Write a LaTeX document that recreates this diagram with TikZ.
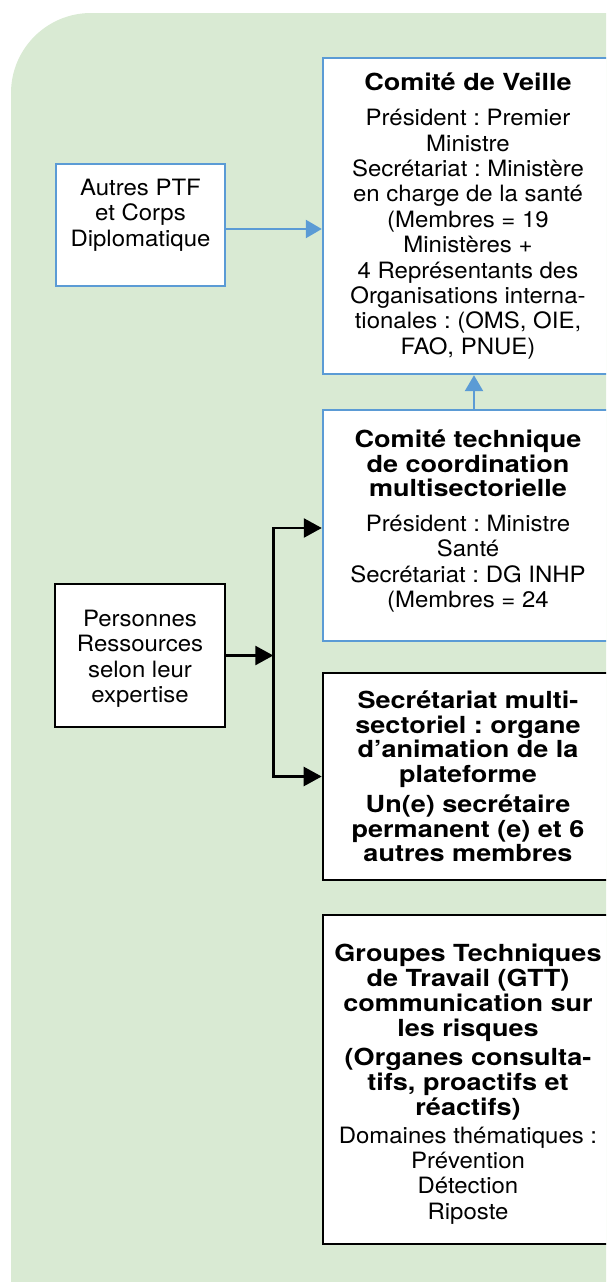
\documentclass[tikz,border=0pt]{standalone}
\usepackage{fontspec}
\setmainfont{TeX Gyre Heros}[FakeStretch=1.065]
\newfontfamily\regfont{TeX Gyre Heros}[FakeStretch=1.065]
\newfontfamily\boldfont{TeX Gyre Heros}[FakeStretch=1.15]
\usetikzlibrary{arrows.meta}
\frenchspacing

\definecolor{panelgreen}{HTML}{D9EAD3}
\definecolor{frameblue}{HTML}{5B9BD5}

% text faces used in the boxes
\newcommand\txtreg{\fontsize{22.5}{25.4}\regfont\mdseries}
\newcommand\txtbold{\fontsize{23.5}{25.4}\boldfont\bfseries}
% invisible struts that widen a text block upwards or downwards
\newcommand\padbelow[1]{\rule[-#1]{0pt}{#1}}
\newcommand\padabove[1]{\rule{0pt}{#1}}

\tikzset{bigtri/.tip={Triangle[length=18pt,width=19pt]},
         bluetri/.tip={Triangle[length=16pt,width=18pt]}}

\begin{document}
\begin{tikzpicture}[x=1pt,y=-1pt,
  box/.style={rectangle, fill=white, inner sep=0pt, align=center,
              font=\txtreg, text=black},
  bluebox/.style={box, draw=frameblue, line width=2.4pt},
  blackbox/.style={box, draw=black, line width=2.6pt},
  blueconn/.style={draw=frameblue, line width=2.4pt, -bluetri},
  blackconn/.style={draw=black, line width=2.5pt},
]
\useasboundingbox (0,0) rectangle (606,1282);
\clip (0,0) rectangle (606,1282);

% green panel with one rounded corner
\fill[panelgreen, rounded corners=80pt] (11,1500) -- (11,13) -- (700,13) -- (700,1500) -- cycle;

% left column
\node[bluebox, minimum width=169pt, minimum height=122pt] (autres) at (140.5,225)
  {Autres PTF\\et Corps\\Diplomatique\padbelow{25pt}};
\node[blackbox, minimum width=170pt, minimum height=143pt] (pers) at (140,655.5)
  {\padabove{22.8pt}Personnes\\Ressources\\selon leur\\expertise};

% right column
\node[bluebox, minimum width=290pt, minimum height=316pt] (veille) at (468,216)
  {\txtbold Comité de Veille\\[9.5pt]
   Président : Premier\\
   Ministre\\
   Secrétariat : Ministère\\
   en charge de la santé\\
   (Membres = 19\\
   Ministères +\\
   4 Représentants des\\
   Organisations interna-\\
   tionales : (OMS, OIE,\\
   FAO, PNUE)};

\node[bluebox, minimum width=290pt, minimum height=231pt] (tech) at (468,525.5)
  {\txtbold Comité technique\\[-0.8pt]
   \txtbold de coordination\\[-0.8pt]
   \txtbold multisectorielle\\[9.5pt]
   Président : Ministre\\
   Santé\\
   Secrétariat : DG INHP\\
   (Membres = 24\padbelow{13.4pt}};

\node[blackbox, minimum width=290pt, minimum height=207pt] (secr) at (468,776.5)
  {\txtbold Secrétariat multi-\\[-0.8pt]
   \txtbold sectoriel : organe\\[-0.8pt]
   \txtbold d’animation de la\\[-0.8pt]
   \txtbold plateforme\\[4.5pt]
   \txtbold Un(e) secrétaire\\[-0.8pt]
   \txtbold permanent (e) et 6\\[-0.8pt]
   \txtbold autres membres};

\node[blackbox, minimum width=290pt, minimum height=329pt] (gtt) at (468,1079.5)
  {\txtbold\padabove{27pt}Groupes Techniques\\[-0.4pt]
   \txtbold de Travail (GTT)\\[-0.4pt]
   \txtbold communication sur\\[-0.4pt]
   \txtbold les risques\\[3.5pt]
   \txtbold (Organes consulta-\\[-0.4pt]
   \txtbold tifs, proactifs et\\[-0.4pt]
   \txtbold réactifs)\\[2pt]
   Domaines thématiques :\\
   Prévention\\
   Détection\\
   Riposte};

% blue links
\draw[blueconn] ([yshift=-4pt]autres.east) -- ([yshift=-4pt]autres.east -| veille.west);
\draw[blueconn] ([xshift=6pt]tech.north) -- ([xshift=6pt]tech.north |- veille.south);

% black links from the resource people
\coordinate (hub) at ([xshift=47pt]pers.east);
\coordinate (techin) at ([yshift=-2.5pt]tech.west);
\draw[blackconn, -bigtri] (pers.east) -- (hub);
\draw[blackconn, bigtri-bigtri] (techin) -- (hub |- techin) -- (hub |- secr.west) -- (secr.west);
\end{tikzpicture}
\end{document}
